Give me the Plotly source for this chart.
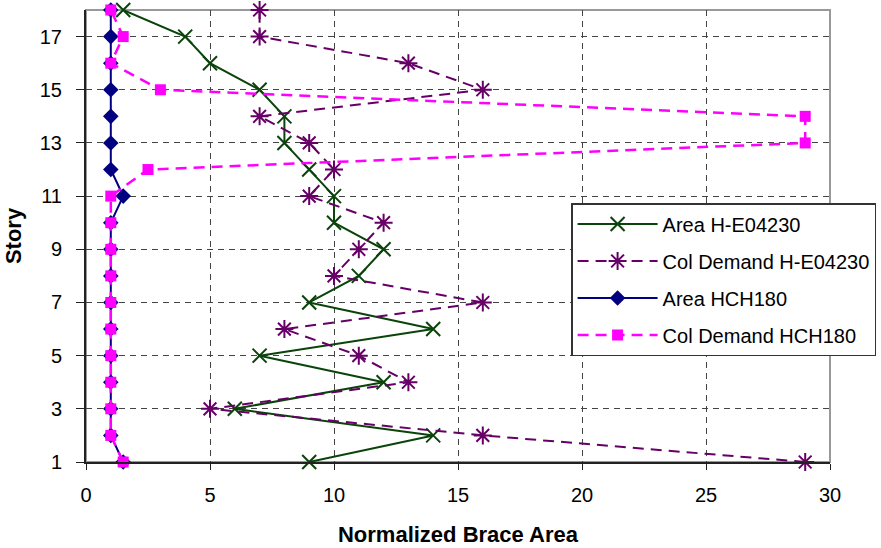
import plotly.graph_objects as go

stories = list(range(1, 19))

area_he04230 = [9, 14, 6, 12, 7, 14, 9, 11, 12, 10, 10, 9, 8, 8, 7, 5, 4, 1.5]
col_demand_he04230 = [29, 16, 5, 13, 11, 8, 16, 10, 11, 12, 9, 10, 9, 7, 16, 13, 7, 7]
area_hch180 = [1.5, 1, 1, 1, 1, 1, 1, 1, 1, 1, 1.5, 1, 1, 1, 1, 1, 1, 1]
col_demand_hch180 = [1.5, 1, 1, 1, 1, 1, 1, 1, 1, 1, 1, 2.5, 29, 29, 3, 1, 1.5, 1]

series_names = ["Area H-E04230", "Col Demand H-E04230", "Area HCH180", "Col Demand HCH180"]

FONT = "Liberation Sans, Arial, sans-serif"

fig = go.Figure()

fig.add_trace(go.Scatter(
    x=area_he04230, y=stories, name=series_names[0], mode="lines+markers",
    line=dict(color="#0a440a", width=2),
    marker=dict(symbol="x-thin-open", size=14, line=dict(color="#0a440a", width=2)),
    cliponaxis=False, legendgroup="a",
))
fig.add_trace(go.Scatter(
    x=col_demand_he04230, y=stories, name=series_names[1], mode="lines+markers",
    line=dict(color="#660066", width=2, dash="11px,7px"),
    marker=dict(symbol="asterisk-open", size=15, line=dict(color="#660066", width=2)),
    cliponaxis=False, legendgroup="b",
))
fig.add_trace(go.Scatter(
    x=area_hch180, y=stories, name=series_names[2], mode="lines+markers",
    line=dict(color="#000080", width=2),
    marker=dict(symbol="diamond", size=12, color="#000080"),
    cliponaxis=False, legendgroup="c",
))
fig.add_trace(go.Scatter(
    x=col_demand_hch180, y=stories, name=series_names[3], mode="lines+markers",
    line=dict(color="#ff00ff", width=2.5, dash="11px,7px"),
    marker=dict(symbol="square", size=11, color="#ff00ff"),
    cliponaxis=False, legendgroup="d",
))

# gray frame along the top and right of the plotting area
fig.add_shape(type="rect", xref="paper", yref="paper", x0=0, x1=1, y0=0, y1=1,
              line=dict(color="#999999", width=2), layer="below")

fig.update_layout(
    width=881, height=548,
    margin=dict(l=86, r=51, t=10, b=86, autoexpand=False),
    paper_bgcolor="white", plot_bgcolor="white",
    font=dict(family=FONT, size=20, color="black"),
    showlegend=True,
    legend=dict(
        x=0.652, y=0.573, xanchor="left", yanchor="top",
        bgcolor="white", bordercolor="#333333", borderwidth=1.5,
        font=dict(family=FONT, size=20, color="black"),
        tracegroupgap=8, itemwidth=80,
    ),
    xaxis=dict(
        range=[0, 30], tick0=0, dtick=5,
        showline=True, linecolor="#222222", linewidth=2,
        ticks="outside", ticklen=6, tickcolor="#222222",
        showgrid=True, gridcolor="#444444", griddash="6px,5px", gridwidth=1,
        zeroline=False,
        ticklabelstandoff=8,
        title=dict(text="<b>Normalized Brace Area</b>", font=dict(family=FONT, size=22), standoff=22),
    ),
    yaxis=dict(
        range=[1, 18], tick0=1, dtick=2,
        showline=True, linecolor="#222222", linewidth=2,
        ticks="outside", ticklen=8, tickcolor="#222222",
        showgrid=True, gridcolor="#444444", griddash="6px,5px", gridwidth=1,
        zeroline=False,
        ticklabelstandoff=10,
        title=dict(text="<b>Story</b>", font=dict(family=FONT, size=22), standoff=12),
    ),
)

fig.write_html("out.html")
